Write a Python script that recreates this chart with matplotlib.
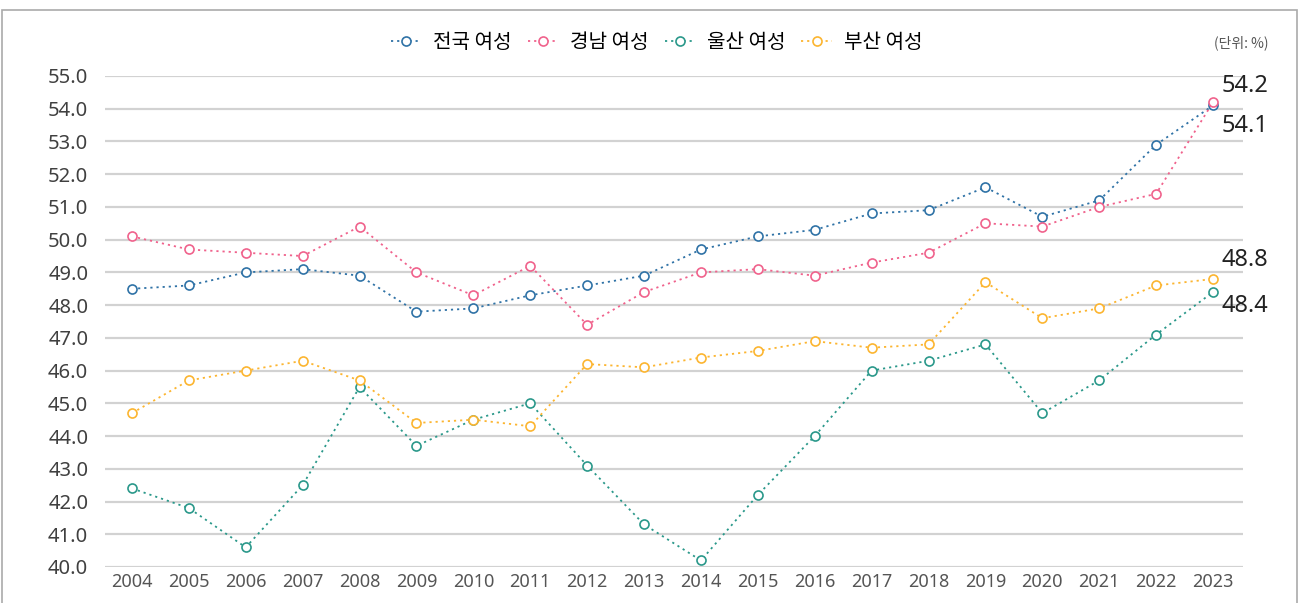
import matplotlib
matplotlib.use("Agg")
import matplotlib.pyplot as plt
from matplotlib.patches import Rectangle

plt.rcParams['font.family'] = ['Noto Sans CJK KR', 'DejaVu Sans']

years = list(range(2004, 2024))
national = [48.5, 48.6, 49.0, 49.1, 48.9, 47.8, 47.9, 48.3, 48.6, 48.9,
            49.7, 50.1, 50.3, 50.8, 50.9, 51.6, 50.7, 51.2, 52.9, 54.1]
gyeongnam = [50.1, 49.7, 49.6, 49.5, 50.4, 49.0, 48.3, 49.2, 47.4, 48.4,
             49.0, 49.1, 48.9, 49.3, 49.6, 50.5, 50.4, 51.0, 51.4, 54.2]
ulsan = [42.4, 41.8, 40.6, 42.5, 45.5, 43.7, 44.5, 45.0, 43.1, 41.3,
         40.2, 42.2, 44.0, 46.0, 46.3, 46.8, 44.7, 45.7, 47.1, 48.4]
busan = [44.7, 45.7, 46.0, 46.3, 45.7, 44.4, 44.5, 44.3, 46.2, 46.1,
         46.4, 46.6, 46.9, 46.7, 46.8, 48.7, 47.6, 47.9, 48.6, 48.8]
series_names = ['전국 여성', '경남 여성', '울산 여성', '부산 여성']
colors = ['#2f72a6', '#f0628c', '#2a988a', '#fcb530']
yticks = [40.0 + i for i in range(16)]

NUMFONT = ['Noto Sans', 'DejaVu Sans']

fig = plt.figure(figsize=(13, 6.03), dpi=100)
ax = fig.add_axes([105/1300, 36/603, 1138/1300, 491/603])

# outer frame
fig.patches.append(Rectangle((2/1300, -0.1), 1295/1300, 1.1 - 10/603,
                             transform=fig.transFigure, fill=False,
                             edgecolor='#aaaaaa', linewidth=1.2))

handles = []
for vals, name, c in zip([national, gyeongnam, ulsan, busan], series_names, colors):
    h, = ax.plot(years, vals, linestyle=(0, (1.2, 2.2)), linewidth=1.3, color=c,
                 marker='o', markersize=6.5, markerfacecolor='white',
                 markeredgecolor=c, markeredgewidth=1.2, label=name,
                 clip_on=False, zorder=3)
    handles.append(h)

ax.set_ylim(40, 55)
ax.set_xlim(2003.526, 2023.527)
ax.set_yticks(yticks)
ax.set_yticklabels([f'{v:.1f}' for v in yticks], fontsize=14.5, color='#404040',
                   family=NUMFONT)
ax.set_xticks(years)
ax.set_xticklabels([str(y) for y in years], fontsize=13, color='#555555',
                   family=NUMFONT)
ax.tick_params(axis='both', length=0)
ax.tick_params(axis='y', pad=12)
ax.tick_params(axis='x', pad=4)
for s in ax.spines.values():
    s.set_visible(False)
ax.grid(axis='y', color='#d2d2d2', linewidth=1.6)
ax.set_axisbelow(True)

# end labels
ann = [(2023, gyeongnam[-1], 6, 12), (2023, national[-1], 6, -15),
       (2023, busan[-1], 6, 14), (2023, ulsan[-1], 6, -10)]
for x, v, dx, dy in ann:
    ax.annotate(f'{v:.1f}', (x, v), xytext=(dx, dy), textcoords='offset points',
                fontsize=17, color='#222222', va='center', ha='left',
                family=NUMFONT, annotation_clip=False)

fig.legend(handles=handles, loc='center', bbox_to_anchor=(0.505, 0.929), ncol=4,
           frameon=False, handlelength=1.5, handletextpad=0.6,
           columnspacing=0.8, prop={'weight': 'medium', 'size': 14.5})
fig.text(1268/1300, 1 - 43/603, '(단위: %)', fontsize=10, color='#555555',
         ha='right', va='center')

fig.savefig('out.png', dpi=100)
